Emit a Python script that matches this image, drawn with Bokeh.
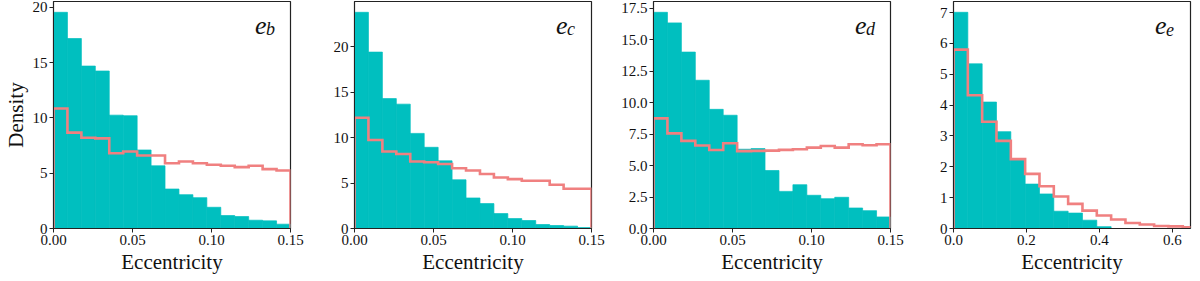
import numpy as np
from bokeh.plotting import figure
from bokeh.layouts import row
from bokeh.models import FixedTicker, PrintfTickFormatter, Label, Range1d
from bokeh.embed import file_html
from bokeh.resources import INLINE

# ---------------- data ----------------
# bin layout per panel: (first edge, bin width, number of bins)
bins_b = (0.0, 0.15 / 17, 17)
bins_c = (0.0, 0.15 / 17, 17)
bins_d = (0.0, 0.15 / 17, 17)
bins_e = (0.0, 0.0393, 17)

# posterior density (filled teal histogram)
post_b = [19.55, 17.18, 14.69, 14.24, 10.25, 10.20, 7.10, 5.67, 3.57, 3.06, 2.79, 1.92, 1.17, 1.08, 0.75, 0.69, 0.39]
post_c = [23.80, 19.42, 14.30, 13.69, 10.47, 8.94, 7.45, 5.36, 3.36, 2.74, 1.64, 1.09, 0.88, 0.44, 0.33, 0.26, 0.10]
post_d = [17.18, 16.34, 14.02, 11.78, 9.47, 9.00, 6.30, 6.35, 4.61, 2.95, 3.48, 2.64, 2.37, 2.48, 1.63, 1.42, 0.92]
post_e = [7.01, 5.34, 4.10, 3.14, 2.23, 1.44, 1.12, 0.56, 0.50, 0.27, 0.06, 0.0, 0.0, 0.0, 0.0, 0.0, 0.0]

# prior density (red step outline)
prior_b = [10.85, 8.67, 8.20, 8.15, 6.80, 6.96, 6.60, 6.60, 5.90, 6.06, 5.90, 5.76, 5.67, 5.55, 5.67, 5.37, 5.25]
prior_c = [12.20, 9.74, 8.47, 8.20, 7.37, 7.30, 7.10, 6.64, 6.39, 6.00, 5.62, 5.44, 5.26, 5.26, 4.82, 4.38, 4.38]
prior_d = [8.75, 7.56, 6.96, 6.59, 6.24, 6.77, 6.15, 6.17, 6.19, 6.25, 6.30, 6.43, 6.56, 6.43, 6.69, 6.62, 6.69]
prior_e = [5.80, 4.32, 3.46, 2.84, 2.25, 1.77, 1.37, 1.04, 0.80, 0.58, 0.42, 0.29, 0.18, 0.13, 0.08, 0.07, 0.04]

# axis limits and ticks
xmax_b, xmax_c, xmax_d, xmax_e = 0.15, 0.15, 0.15, 0.65
xticks_small = [0.0, 0.05, 0.10, 0.15]
xticks_e = [0.0, 0.2, 0.4, 0.6]
yticks_b = [0, 5, 10, 15, 20]
yticks_c = [0, 5, 10, 15, 20]
yticks_d = [0.0, 2.5, 5.0, 7.5, 10.0, 12.5, 15.0, 17.5]
yticks_e = [0, 1, 2, 3, 4, 5, 6, 7]

panel_subs = ["b", "c", "d", "e"]
x_label = "Eccentricity"
y_label = "Density"

# ---------------- styling ----------------
TEAL = "#00BFBF"
CORAL = "#F08080"
SERIF = "Liberation Serif"


def make_panel(bins, post, prior, xmax, xticks, xfmt, yticks, yfmt, sub,
               left_border, right_border, ylabel):
    lo, w, n = bins
    edges = lo + w * np.arange(n + 1)
    post = np.asarray(post, dtype=float)
    prior = np.asarray(prior, dtype=float)
    ymax = 1.05 * post.max()

    p = figure(output_backend="svg", toolbar_location=None,
               frame_width=237, frame_height=227,
               min_border_left=left_border, min_border_right=right_border,
               min_border_top=1, min_border_bottom=45,
               x_range=Range1d(0, xmax), y_range=Range1d(0, ymax),
               background_fill_color="white", border_fill_color="white")
    p.grid.visible = False
    p.outline_line_color = "#222222"
    p.outline_line_width = 1.2

    p.quad(left=edges[:-1], right=edges[1:], bottom=0, top=post,
           fill_color=TEAL, line_color=TEAL, line_width=0.7)

    # step outline of prior histogram
    xs = np.repeat(edges, 2)
    ys = np.concatenate([[0.0], np.repeat(prior, 2), [0.0]])
    p.line(xs, ys, line_color=CORAL, line_width=2.6, line_join="miter")

    for ax, ticks, fmt in ((p.xaxis, xticks, xfmt), (p.yaxis, yticks, yfmt)):
        ax.ticker = FixedTicker(ticks=ticks)
        ax.formatter = PrintfTickFormatter(format=fmt)
        ax.major_tick_in = 0
        ax.major_tick_out = 4
        ax.minor_tick_line_color = None
        ax.axis_line_color = "#222222"
        ax.major_tick_line_color = "#222222"
        ax.major_label_text_font = SERIF
        ax.major_label_text_font_size = "15px"
        ax.major_label_text_color = "#111111"
        ax.major_label_standoff = 2
        ax.axis_label_text_font = SERIF
        ax.axis_label_text_font_size = "21px"
        ax.axis_label_text_font_style = "normal"
        ax.axis_label_text_color = "#111111"
        ax.axis_label_standoff = 2

    p.xaxis.axis_label = x_label
    if ylabel:
        p.yaxis.axis_label = y_label

    lx = 0.85 * xmax
    ly = 0.895 * ymax
    p.add_layout(Label(x=lx, y=ly, text="e", text_font=SERIF,
                       text_font_style="italic", text_font_size="26px",
                       text_color="#111111", text_baseline="alphabetic"))
    p.add_layout(Label(x=lx, y=ly, x_offset=11, y_offset=-4, text=sub,
                       text_font=SERIF, text_font_style="italic",
                       text_font_size="18px", text_color="#111111",
                       text_baseline="alphabetic"))
    return p


p1 = make_panel(bins_b, post_b, prior_b, xmax_b, xticks_small, "%.2f",
                yticks_b, "%d", panel_subs[0], 43, 15, True)
p2 = make_panel(bins_c, post_c, prior_c, xmax_c, xticks_small, "%.2f",
                yticks_c, "%d", panel_subs[1], 49, 14, False)
p3 = make_panel(bins_d, post_d, prior_d, xmax_d, xticks_small, "%.2f",
                yticks_d, "%.1f", panel_subs[2], 48, 16, False)
p4 = make_panel(bins_e, post_e, prior_e, xmax_e, xticks_e, "%.1f",
                yticks_e, "%d", panel_subs[3], 47, 2, False)

layout = row(p1, p2, p3, p4, spacing=0)
open("out.html", "w").write(file_html(layout, INLINE))
